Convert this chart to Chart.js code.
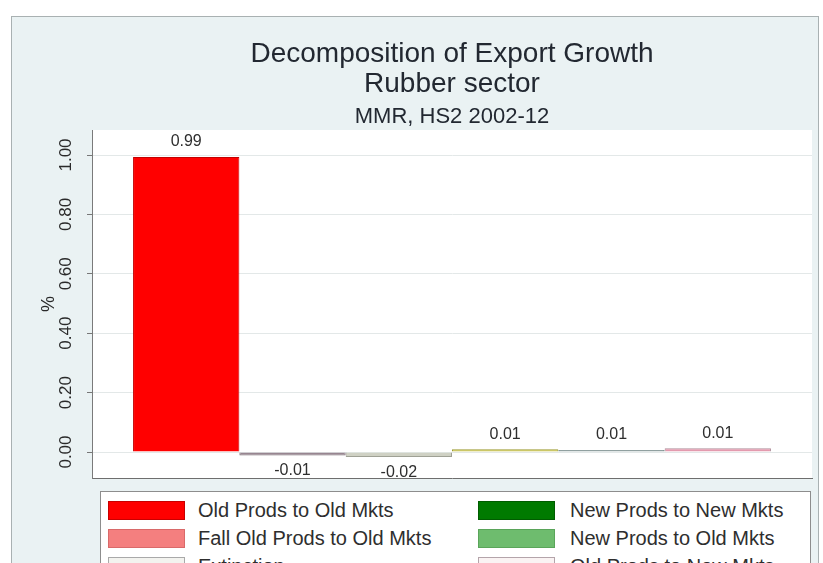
<!DOCTYPE html>
<html><head><meta charset="utf-8">
<script src="https://cdn.jsdelivr.net/npm/chart.js@4/dist/chart.umd.min.js"></script>
<style>
html,body{margin:0;padding:0;background:#fff;}
body{width:823px;height:563px;overflow:hidden;position:relative;font-family:"Liberation Sans",Arial,sans-serif;}
#frame{position:absolute;left:11px;top:16px;width:806px;height:600px;border:1px solid #a9b1b2;background:#eaf2f3;}
#c{position:absolute;left:0;top:0;}
#legend{position:absolute;left:100px;top:491px;width:709px;height:120px;border:1px solid #8d8d8d;background:#fff;}
.sw{position:absolute;width:75px;height:17px;border:1px solid;}
.lt{position:absolute;font-size:20px;color:#2e2e2e;line-height:19px;white-space:nowrap;}
</style></head><body>
<div id="frame"></div>
<canvas id="c" width="823" height="563"></canvas>
<div id="legend"></div>
<script>
// ---- data ----
const seriesNames = ['Old Prods to Old Mkts','Fall Old Prods to Old Mkts','Extinction','New Prods to New Mkts','New Prods to Old Mkts','Old Prods to New Mkts'];
const seriesValues = [0.993, -0.012, -0.017, 0.009, 0.007, 0.013];
const yTickValues = [0, 0.2, 0.4, 0.6, 0.8, 1.0];
const yTickLabels = ['0.00','0.20','0.40','0.60','0.80','1.00'];
const titleLines = ['Decomposition of Export Growth','Rubber sector'];
const subtitleText = 'MMR, HS2 2002-12';
const yAxisTitle = '%';

// ---- styles ----
const barColors  = ['#ff0000','#988590','#cfd1c4','#c2bd45','#8a9e9e','#e39aae'];
const barBorders = ['#c40000','#7d6e76','#9fa195','#9c9a30','#6f8282','#b08e9a'];
const legendFill   = ['#fe0000','#f47f7f','#f3f3ef','#007a00','#6ebc6e','#faf3f3'];
const legendBorder = ['#c80000','#d96a6a','#a9a9a9','#005c00','#5aa55a','#b4a4aa'];
const F = '"Liberation Sans", Arial, sans-serif';

// ---- legend (HTML, two columns, column-major) ----
const lg = document.getElementById('legend');
seriesNames.forEach((name, i) => {
  const col = Math.floor(i / 3), row = i % 3;
  const sw = document.createElement('div');
  sw.className = 'sw';
  sw.style.left = (col ? 377 : 7) + 'px';
  sw.style.top = (9 + row * 28) + 'px';
  sw.style.background = legendFill[i];
  sw.style.borderColor = legendBorder[i];
  lg.appendChild(sw);
  const t = document.createElement('div');
  t.className = 'lt';
  t.textContent = name;
  t.style.left = (col ? 469 : 97) + 'px';
  t.style.top = (9 + row * 28) + 'px';
  lg.appendChild(t);
});

// ---- plugins ----
const plotBg = {
  id: 'plotBg',
  beforeDraw(chart) {
    const a = chart.chartArea, ctx = chart.ctx;
    ctx.save(); ctx.fillStyle = '#ffffff';
    ctx.fillRect(a.left, a.top, a.right - a.left, a.bottom - a.top);
    ctx.restore();
  }
};
const valueLabels = {
  id: 'valueLabels',
  afterDatasetsDraw(chart) {
    const ctx = chart.ctx;
    ctx.save();
    ctx.font = '16px ' + F; ctx.fillStyle = '#2e2e2e'; ctx.textAlign = 'center'; ctx.textBaseline = 'middle';
    chart.data.datasets.forEach((ds, i) => {
      const el = chart.getDatasetMeta(i).data[0];
      const v = ds.data[0];
      const y = v >= 0 ? el.y - 15 : el.y + 15.5;
      ctx.fillText(v.toFixed(2), el.x, y);
    });
    ctx.restore();
  }
};

new Chart(document.getElementById('c'), {
  type: 'bar',
  data: {
    labels: [''],
    datasets: seriesNames.map((n, i) => ({
      label: n, data: [seriesValues[i]],
      backgroundColor: barColors[i], borderColor: barBorders[i], borderWidth: 1,
      barPercentage: 1, categoryPercentage: 0.886
    }))
  },
  plugins: [plotBg, valueLabels],
  options: {
    responsive: false, animation: false, devicePixelRatio: 1,
    layout: { padding: { left: 0, right: 11, top: 0, bottom: 85 } },
    plugins: {
      legend: { display: false }, tooltip: { enabled: false },
      title: { display: true, text: titleLines, fullSize: false, color: '#222831',
        font: { family: F, size: 28, weight: 'normal', lineHeight: 1.1 }, padding: { top: 38.5, bottom: 0 } },
      subtitle: { display: true, text: subtitleText, fullSize: false, color: '#222831',
        font: { family: F, size: 22, weight: 'normal', lineHeight: 1.1 }, padding: { top: 4.5, bottom: 1.2 } }
    },
    scales: {
      x: { type: 'category', grid: { display: false }, ticks: { display: false },
        border: { display: true, color: '#6e6e6e', width: 1 },
        afterFit(s) { s.height = 0; } },
      y: { min: -0.0875, max: 1.0842,
        afterBuildTicks(s) { s.ticks = yTickValues.map(v => ({ value: v })); },
        ticks: { autoSkip: false, minRotation: 90, maxRotation: 90, crossAlign: 'center', padding: 4.5,
          color: '#2a2a2a', font: { family: F, size: 17 },
          callback: (v) => yTickLabels[yTickValues.indexOf(v)] },
        grid: { color: '#e3e8e8', tickLength: 5, tickColor: '#777', drawTicks: true },
        border: { display: true, color: '#7a7a7a', width: 1 },
        title: { display: true, text: yAxisTitle, color: '#2a2a2a', font: { family: F, size: 18 }, padding: { top: 38.5, bottom: 0 } },
        afterFit(s) { s.width = 92; } }
    }
  }
});
</script>
</body></html>
